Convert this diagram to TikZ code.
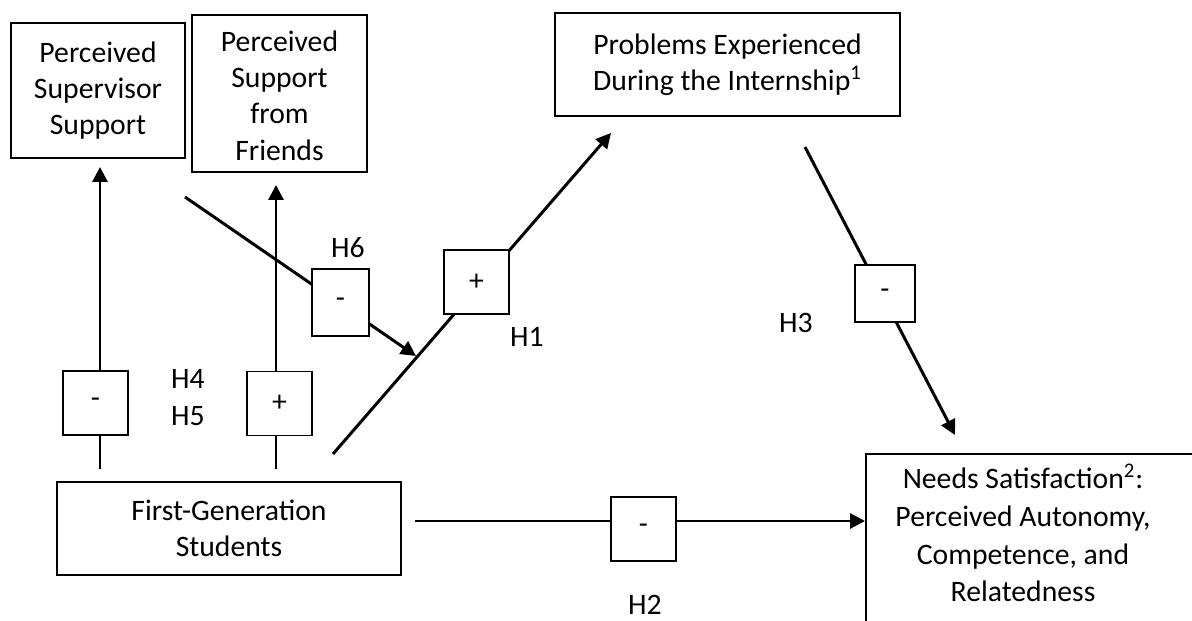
\documentclass[tikz,border=0pt]{standalone}
\usepackage{fontspec}
\setmainfont{Carlito}
\usetikzlibrary{arrows.meta,positioning}
\newcommand{\pxu}{0.02cm}

\begin{document}
\begin{tikzpicture}[
  x=0.02cm, y=-0.02cm,
  every node/.style={font=\fontsize{16.9}{20.7}\selectfont},
  box/.style={draw, line width=0.9pt, fill=white, align=center, inner sep=0pt},
  sign/.style={box, minimum width=64*\pxu, minimum height=64*\pxu},
  link/.style={line width=1.7pt},
  arr/.style={link, -{Triangle[length=0.3cm,width=0.3cm]}},
]
\useasboundingbox (0,0) rectangle (1192,621);
\clip (0,0) rectangle (1192,621);
% Constructs
\node[box, minimum width=174*\pxu, minimum height=135*\pxu] (sup) at (98,90.5)
  {Perceived\\Supervisor\\Support};
\node[box, minimum width=175*\pxu, minimum height=157*\pxu] (fri) at (279.5,93.5)
  {\raisebox{-0.1cm}[\height][\depth]{\begin{tabular}{@{}c@{}}Perceived\\Support\\from\\Friends\end{tabular}}};
\node[box, minimum width=345*\pxu, minimum height=103*\pxu] (prob) at (727.5,64.5)
  {Problems Experienced\\During the Internship\textsuperscript{1}};
\node[box, minimum width=344*\pxu, minimum height=93*\pxu] (gen) at (229,528.5)
  {First-Generation\\Students};
% Needs box runs off the page
\draw[line width=0.9pt] (866,454) rectangle (1230,670);
\node[align=center, font=\fontsize{16.9}{21.5}\selectfont] (needs) at (1023,533)
  {Needs Satisfaction\textsuperscript{2}:\\Perceived Autonomy,\\Competence, and\\Relatedness};
% Connector ends
\coordinate (g4) at (100,469);
\coordinate (t4) at (100,167);
\coordinate (g5) at (276,469);
\coordinate (t5) at (276,185);
\coordinate (g1) at (333,454);
\coordinate (t1) at (611,133);
\coordinate (p6) at (185,197);
\coordinate (t6) at (416,356);
\coordinate (p3) at (805,147);
\coordinate (t3) at (955,435);
\coordinate (g2) at (415,521);
\coordinate (t2) at (865,521);
% Paths
\draw[arr] (g4) -- (t4);
\draw[arr] (g5) -- (t5);
\draw[arr] (g1) -- (t1);
\draw[arr] (p6) -- (t6);
\draw[arr] (p3) -- (t3);
\draw[arr] (g2) -- (t2);
% Signs
\node[sign, minimum width=65*\pxu] (s4) at (95.5,403) {-};
\node[sign, minimum width=65*\pxu] (s5) at (279.5,403.5) {+};
\node[sign, minimum width=57*\pxu, minimum height=67*\pxu] (s6) at (340.5,302.5) {-};
\node[sign, minimum width=65*\pxu] (s1) at (476.5,282) {+};
\node[sign, minimum width=60*\pxu, minimum height=57*\pxu] (s3) at (885,293.5) {-};
\node[sign, minimum width=65*\pxu] (s2) at (643.5,529) {-};
% Hypotheses
\node (h6) at (348,248) {H6};
\node (h1) at (527,337) {H1};
\node (h4) at (188,379) {H4};
\node (h5) at (188,416) {H5};
\node (h3) at (796,323) {H3};
\node (h2) at (645,605) {H2};
\end{tikzpicture}
\end{document}
